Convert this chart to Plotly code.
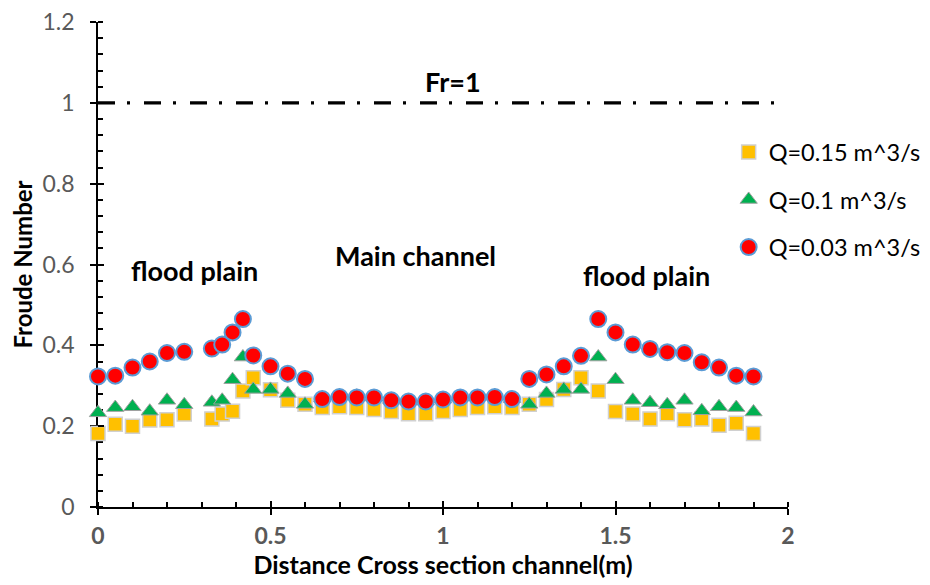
import plotly.graph_objects as go

# ---------------- data ----------------
dist = [0, 0.05, 0.1, 0.15, 0.2, 0.25, 0.33, 0.36, 0.39, 0.42, 0.45, 0.5,
        0.55, 0.6, 0.65, 0.7, 0.75, 0.8, 0.85, 0.9, 0.95, 1.0, 1.05, 1.1, 1.15, 1.2,
        1.25, 1.3, 1.35, 1.4, 1.45, 1.5, 1.55, 1.6, 1.65, 1.7, 1.75, 1.8, 1.85, 1.9]

fr_q015 = [0.182, 0.205, 0.200, 0.215, 0.216, 0.230, 0.218, 0.230, 0.237, 0.287, 0.320, 0.290,
           0.264, 0.254, 0.246, 0.248, 0.246, 0.241, 0.236, 0.231, 0.231, 0.236, 0.241, 0.246, 0.248, 0.246,
           0.254, 0.266, 0.291, 0.320, 0.287, 0.236, 0.230, 0.218, 0.231, 0.216, 0.218, 0.202, 0.207, 0.182]

fr_q010 = [0.233, 0.246, 0.248, 0.237, 0.264, 0.253, 0.259, 0.264, 0.315, 0.371, 0.291, 0.291,
           0.281, 0.254, 0.270, 0.275, 0.274, 0.272, 0.266, 0.262, 0.262, 0.267, 0.272, 0.273, 0.275, 0.268,
           0.254, 0.281, 0.291, 0.291, 0.371, 0.315, 0.264, 0.258, 0.253, 0.264, 0.238, 0.248, 0.246, 0.235]

fr_q003 = [0.323, 0.325, 0.345, 0.360, 0.381, 0.384, 0.392, 0.402, 0.432, 0.465, 0.375, 0.348,
           0.330, 0.317, 0.267, 0.272, 0.271, 0.271, 0.264, 0.261, 0.261, 0.266, 0.271, 0.271, 0.272, 0.267,
           0.317, 0.328, 0.348, 0.374, 0.465, 0.432, 0.402, 0.391, 0.383, 0.381, 0.358, 0.345, 0.325, 0.323]

series_names = ["Q=0.15 m^3/s", "Q=0.1 m^3/s", "Q=0.03 m^3/s"]

fr1_x = [0, 1.96]
fr1_y = [1, 1]

x_ticks = [0, 0.5, 1, 1.5, 2]
y_ticks = [0, 0.2, 0.4, 0.6, 0.8, 1, 1.2]

# ---------------- figure ----------------
FONT = "Lato"
fig = go.Figure()

fig.add_trace(go.Scatter(
    x=dist, y=fr_q015, mode="markers", name=series_names[0], legendgroup="a",
    cliponaxis=False,
    marker=dict(symbol="square", size=14, color="#FFC000",
                line=dict(color="#D0D0D0", width=1.5))))
fig.add_trace(go.Scatter(
    x=dist, y=fr_q010, mode="markers", name=series_names[1], legendgroup="b",
    cliponaxis=False,
    marker=dict(symbol="triangle-up", size=15, color="#00B050",
                line=dict(color="#A0A0A0", width=1))))
fig.add_trace(go.Scatter(
    x=dist, y=fr_q003, mode="markers", name=series_names[2], legendgroup="c",
    cliponaxis=False,
    marker=dict(symbol="circle", size=16, color="#FF0000",
                line=dict(color="#5B9BD5", width=2))))
fig.add_trace(go.Scatter(
    x=fr1_x, y=fr1_y, mode="lines", showlegend=False, cliponaxis=False,
    line=dict(color="black", width=3.2, dash="17px,12px,3px,14px")))
# dummy trace for overlay axes (crossing major ticks)
fig.add_trace(go.Scatter(x=[], y=[], xaxis="x2", yaxis="y2", showlegend=False))

tickfont_x = dict(family=FONT, size=23, color="#595959", weight="bold")
tickfont_y = dict(family=FONT, size=23, color="#595959")

# page body has an 8px margin: the figure is shrunk so it fits the window
fig.update_layout(
    width=922, height=577,
    margin=dict(l=90, r=142, t=14, b=78, autoexpand=False),
    plot_bgcolor="white", paper_bgcolor="white",
    font=dict(family=FONT, color="black"),
    xaxis=dict(
        range=[0, 2], tickvals=x_ticks, ticks="outside", ticklen=6, tickwidth=1.5,
        tickcolor="black", showline=True, linecolor="black", linewidth=1.5,
        showgrid=False, zeroline=False, tickfont=tickfont_x, layer="below traces",
        ticklabelstandoff=2, automargin=False, ticklabeloverflow="allow",
        minor=dict(dtick=0.1, tick0=0, ticks="inside", ticklen=5, tickwidth=1.5,
                   tickcolor="black", showgrid=False),
        title=dict(text="<b>Distance Cross section channel(m)</b>",
                   font=dict(family=FONT, size=25, color="black"), standoff=2),
    ),
    yaxis=dict(
        range=[0, 1.2], tickvals=y_ticks, ticks="outside", ticklen=6, tickwidth=1.5,
        tickcolor="black", showline=True, linecolor="black", linewidth=1.5,
        showgrid=False, zeroline=False, tickfont=tickfont_y, layer="below traces",
        ticklabelstandoff=11, automargin=False, ticklabeloverflow="allow",
        minor=dict(dtick=0.04, tick0=0, ticks="inside", ticklen=5, tickwidth=1.5,
                   tickcolor="black", showgrid=False),
        title=dict(text="<b>Froude Number</b>",
                   font=dict(family=FONT, size=24, color="black"), standoff=4),
    ),
    xaxis2=dict(overlaying="x", anchor="y2", range=[0, 2], tickvals=x_ticks,
                ticks="inside", ticklen=6, tickwidth=1.5, tickcolor="black",
                showticklabels=False, showline=False, showgrid=False, zeroline=False,
                automargin=False),
    yaxis2=dict(overlaying="y", anchor="x2", range=[0, 1.2], tickvals=y_ticks,
                ticks="inside", ticklen=6, tickwidth=1.5, tickcolor="black",
                showticklabels=False, showline=False, showgrid=False, zeroline=False,
                automargin=False),
    legend=dict(x=0.914, y=0.777, xanchor="left", yanchor="top",
                font=dict(family=FONT, size=23.5, color="black"),
                bgcolor="rgba(0,0,0,0)", tracegroupgap=14, traceorder="grouped"),
    showlegend=True,
)

ann_font = dict(family=FONT, size=27, color="black")
for txt, ax, ay in [("Fr=1", 1.03, 1.054), ("flood plain", 0.281, 0.585),
                    ("Main channel", 0.919, 0.622), ("flood plain", 1.591, 0.573)]:
    fig.add_annotation(x=ax, y=ay, xref="x", yref="y", text="<b>%s</b>" % txt,
                       showarrow=False, font=ann_font, xanchor="center", yanchor="middle")

fig.write_html("out.html")
